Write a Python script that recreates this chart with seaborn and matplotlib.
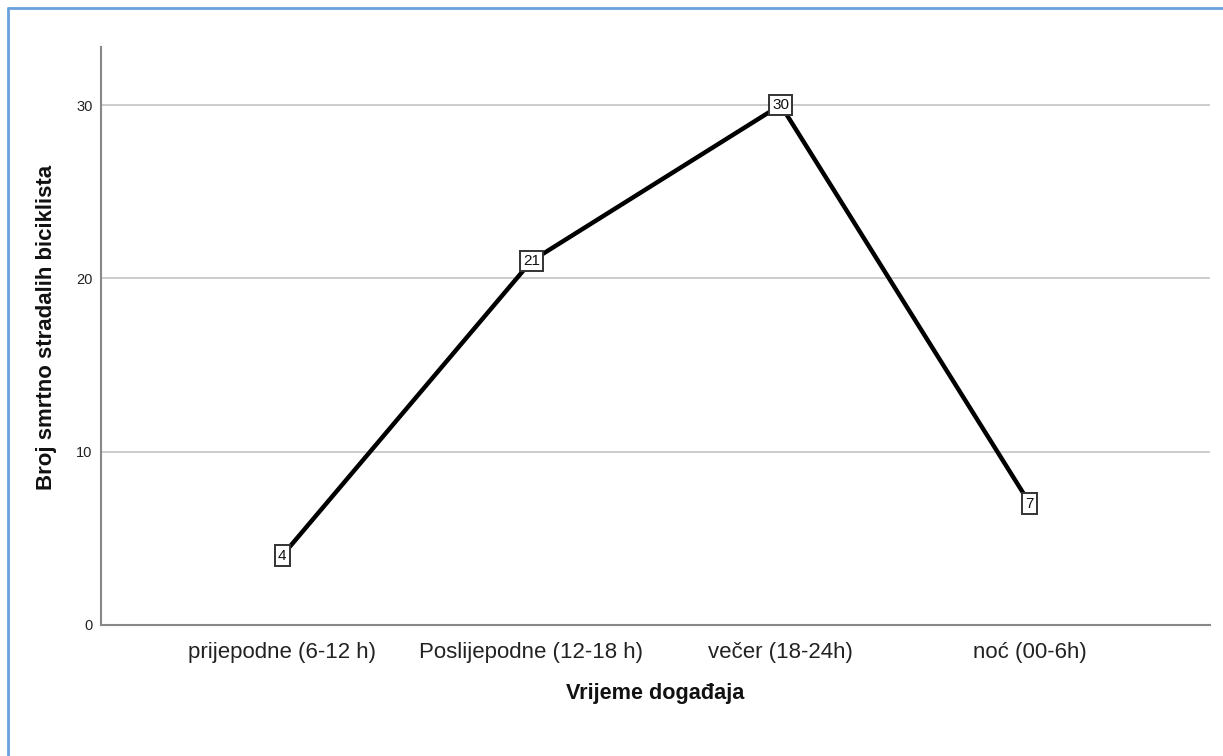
import matplotlib
matplotlib.use("Agg")
import matplotlib.pyplot as plt
import pandas as pd
import seaborn as sns
from matplotlib.lines import Line2D

periods = ["prijepodne (6-12 h)", "Poslijepodne (12-18 h)", "večer (18-24h)", "noć (00-6h)"]
deaths = [4, 21, 30, 7]
y_ticks = [0, 10, 20, 30]

df = pd.DataFrame({"period": periods, "deaths": deaths})

sns.set_theme(style="white")
plt.rcParams["font.family"] = ["Liberation Sans", "DejaVu Sans"]

fig = plt.figure(figsize=(12.23, 7.56), dpi=100)
ax = fig.add_axes([0.0826, 0.1733, 0.9068, 0.7646])

sns.lineplot(data=df, x="period", y="deaths", color="black", linewidth=3.2,
             sort=False, ax=ax, zorder=2)

# value labels in small boxes on top of the line
for i, v in enumerate(deaths):
    ax.text(i, v, str(v), ha="center", va="center", fontsize=11, color="#111111",
            zorder=4,
            bbox=dict(boxstyle="square,pad=0.22", facecolor="white",
                      edgecolor="#333333", linewidth=1.4))

ax.set_xlim(-0.727, 3.723)
ax.set_ylim(0, 33.35)
ax.set_yticks(y_ticks)
ax.yaxis.grid(True, color="#c8c8c8", linewidth=1.3, zorder=0)
ax.set_axisbelow(True)
ax.tick_params(axis="x", labelsize=16, length=0, pad=12, colors="#222222")
ax.tick_params(axis="y", labelsize=10.5, length=0, pad=6, colors="#222222")

for side in ["top", "right"]:
    ax.spines[side].set_visible(False)
for side in ["left", "bottom"]:
    ax.spines[side].set_color("#888888")
    ax.spines[side].set_linewidth(1.5)

ax.set_xlabel("Vrijeme događaja", fontsize=15.6, fontweight="bold", labelpad=15, color="#111111")
ax.set_ylabel("Broj smrtno stradalih biciklista", fontsize=16, fontweight="bold",
              color="#111111")
ax.yaxis.set_label_coords(-0.04, 0.515)

# outer frame (top and left edges visible)
border = "#6aa1dc"
fig.add_artist(Line2D([8 / 1223, 1.0], [1 - 8 / 756, 1 - 8 / 756], color=border,
                      linewidth=2, transform=fig.transFigure))
fig.add_artist(Line2D([8 / 1223, 8 / 1223], [0.0, 1 - 8 / 756], color=border,
                      linewidth=2, transform=fig.transFigure))

fig.savefig("out.png", dpi=100)
